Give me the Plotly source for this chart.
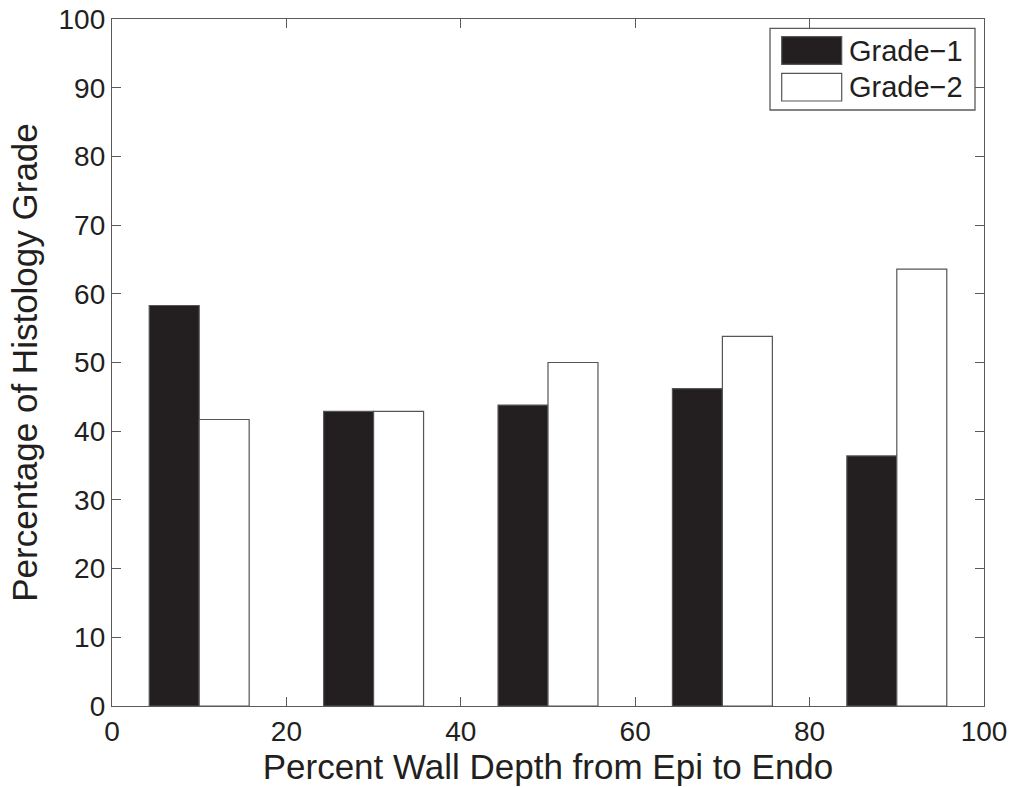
import plotly.graph_objects as go

# Data
depth_bins = [10, 30, 50, 70, 90]
grade1 = [58.3, 42.9, 43.8, 46.2, 36.4]
grade2 = [41.7, 42.9, 50.0, 53.8, 63.6]
series_names = ["Grade\u22121", "Grade\u22122"]
x_ticks = [0, 20, 40, 60, 80, 100]
y_ticks = [0, 10, 20, 30, 40, 50, 60, 70, 80, 90, 100]

INK = "#231f20"
AXIS = "#5a5a5a"
FONT = "Liberation Sans, Arial, Helvetica, sans-serif"
BW = 5.73

fig = go.Figure()
fig.add_trace(go.Bar(x=depth_bins, y=grade1, name=series_names[0], width=BW, offset=-BW,
                     marker=dict(color=INK, line=dict(color="#555555", width=1.2)),
                     showlegend=False))
fig.add_trace(go.Bar(x=depth_bins, y=grade2, name=series_names[1], width=BW, offset=0,
                     marker=dict(color="white", line=dict(color="#555555", width=1.2)),
                     showlegend=False))

axis_common = dict(showgrid=False, zeroline=False, showline=True, linecolor=AXIS, linewidth=1.3,
                   mirror="ticks", ticks="inside", tickcolor=AXIS, tickwidth=1.2, ticklen=9,
                   automargin=False,
                   tickfont=dict(family=FONT, size=28, color=INK))

fig.update_layout(
    width=1020, height=787,
    margin=dict(l=112, r=36, t=19, b=81),
    paper_bgcolor="white", plot_bgcolor="white",
    barmode="overlay",
    font=dict(family=FONT, color=INK),
    xaxis=dict(range=[0, 100], tickvals=x_ticks, ticktext=[str(v) for v in x_ticks],
               title=dict(text="Percent Wall Depth from Epi to Endo", font=dict(size=35, color=INK), standoff=2),
               **axis_common),
    yaxis=dict(range=[0, 100], tickvals=y_ticks, ticktext=[str(v) for v in y_ticks],
               title=dict(text="Percentage of Histology Grade", font=dict(size=35, color=INK), standoff=10),
               **axis_common),
)

# Manual MATLAB-style legend
def px(xp):
    return (xp - 112) / 872.0

def py(yp):
    return (706 - yp) / 687.0

fig.add_shape(type="rect", xref="paper", yref="paper", x0=px(770), x1=px(975), y0=py(110), y1=py(28.3),
              line=dict(color=AXIS, width=1.3), fillcolor="white", layer="above")
sw = [(36.7, 64.3, INK), (73.3, 101, "white")]
for (t, b, c), name in zip(sw, series_names):
    fig.add_shape(type="rect", xref="paper", yref="paper", x0=px(781.7), x1=px(841.7), y0=py(b), y1=py(t),
                  line=dict(color="#555555", width=1.2), fillcolor=c, layer="above")
    fig.add_annotation(xref="paper", yref="paper", x=px(847), y=py((t + b) / 2), text=name,
                       showarrow=False, xanchor="left", yanchor="middle",
                       font=dict(family=FONT, size=29, color=INK))

fig.write_html("out.html")
